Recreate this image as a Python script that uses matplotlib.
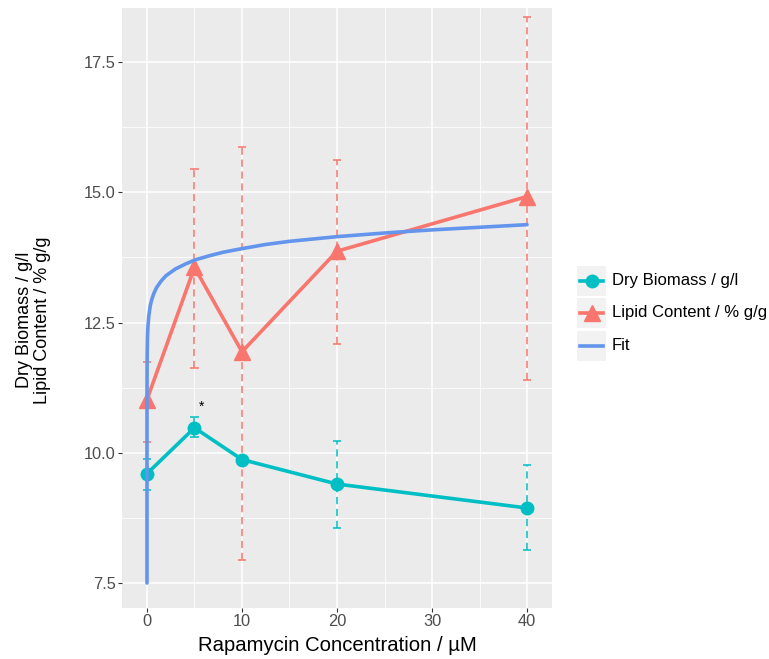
import numpy as np
import matplotlib.pyplot as plt
from matplotlib.patches import Rectangle

plt.rcParams['font.family'] = ['Liberation Sans', 'DejaVu Sans']

# data
conc = [0, 5, 10, 20, 40]
biomass = [9.60, 10.48, 9.87, 9.40, 8.94]
biomass_hi = [9.88, 10.69, 9.93, 10.23, 9.77]
biomass_lo = [9.29, 10.31, 9.81, 8.56, 8.13]
lipid = [11.02, 13.56, 11.94, 13.87, 14.92]
lipid_hi = [11.75, 15.44, 15.88, 15.63, 18.37]
lipid_lo = [10.21, 11.63, 7.94, 12.09, 11.40]

fit_x = [3e-8, 1e-6, 1e-4, 0.001, 0.01, 0.02, 0.05, 0.1, 0.2, 0.35, 0.5, 0.7, 1, 1.5, 2, 3, 4,
         5, 6.5, 8, 10, 12.5, 15, 20, 25, 30, 35, 40]
fit_y = [7.5, 8.65, 10.16, 10.91, 11.66, 11.89, 12.19, 12.42, 12.64, 12.83, 12.94, 13.05, 13.17,
         13.30, 13.40, 13.53, 13.62, 13.70, 13.78, 13.85, 13.92, 14.00, 14.06, 14.15, 14.22,
         14.28, 14.33, 14.38]

star_x, star_y = 5.75, 10.88

labels = ['Dry Biomass / g/l', 'Lipid Content / % g/g', 'Fit']
teal = '#00BFC4'
salmon = '#F8766D'
blue = '#6495ED'

W, H = 769, 659
fig = plt.figure(figsize=(W / 100, H / 100), dpi=100)
ax = fig.add_axes([122 / W, 1 - 608 / H, 430 / W, 600 / H])
ax.set_facecolor('#EBEBEB')
for s in ax.spines.values():
    s.set_visible(False)

ax.set_xlim(-2.63, 42.63)
ax.set_ylim(7.02, 18.54)
ax.set_xticks([0, 10, 20, 30, 40])
ax.set_xticks([5, 15, 25, 35], minor=True)
ax.set_yticks([7.5, 10.0, 12.5, 15.0, 17.5])
ax.set_yticks([8.75, 11.25, 13.75, 16.25], minor=True)
ax.set_yticklabels(['7.5', '10.0', '12.5', '15.0', '17.5'])
ax.grid(which='major', color='white', lw=1.1)
ax.grid(which='minor', color='white', lw=0.55)
ax.set_axisbelow(True)
ax.tick_params(which='major', length=3, width=0.8, color='#333333', labelcolor='#4D4D4D',
               labelsize=11.8, pad=1.5)
ax.tick_params(which='minor', length=0)

cap = 0.45
dash = (0, (4, 2.6))
for x, lo, hi in zip(conc, lipid_lo, lipid_hi):
    ax.vlines(x, lo, hi, colors=salmon, linestyles=dash, lw=1.3, alpha=0.85, zorder=3)
    ax.hlines([lo, hi], x - cap, x + cap, colors=salmon, lw=1.3, alpha=0.85, zorder=3)
for x, lo, hi in zip(conc, biomass_lo, biomass_hi):
    ax.vlines(x, lo, hi, colors=teal, linestyles=dash, lw=1.3, alpha=0.85, zorder=3)
    ax.hlines([lo, hi], x - cap, x + cap, colors=teal, lw=1.3, alpha=0.85, zorder=3)

ax.plot(conc, biomass, color=teal, lw=2.6, marker='o', ms=9, zorder=4)
ax.plot(conc, lipid, color=salmon, lw=2.6, marker='^', ms=12, zorder=4)
ax.plot(fit_x, fit_y, color=blue, lw=2.6, zorder=5, solid_capstyle='round',
        solid_joinstyle='round')

ax.text(star_x, star_y, '*', ha='center', va='center', fontsize=10, color='black')

ax.set_xlabel('Rapamycin Concentration / µM', fontsize=14.6, labelpad=5)
ax.set_ylabel('Dry Biomass / g/l\nLipid Content / % g/g', fontsize=13, linespacing=1.1)
ax.yaxis.set_label_coords(-0.164, 0.48)

# legend drawn in pixel coordinates
lg = fig.add_axes([0, 0, 1, 1], zorder=10)
lg.set_xlim(0, W)
lg.set_ylim(H, 0)
lg.axis('off')
key_tops = [266, 298, 331]
styles = [(teal, 'o', 9), (salmon, '^', 12), (blue, None, 0)]
for top, lab, (c, m, ms) in zip(key_tops, labels, styles):
    lg.add_patch(Rectangle((577, top), 29, 30, facecolor='#F2F2F2', edgecolor='none'))
    cy = top + 15
    lg.plot([580, 603], [cy, cy], color=c, lw=2.6)
    if m:
        lg.plot([591.5], [cy], color=c, marker=m, ms=ms)
    lg.text(612, cy, lab, fontsize=12, va='center', ha='left', color='black')

fig.savefig('out.png', dpi=100)
